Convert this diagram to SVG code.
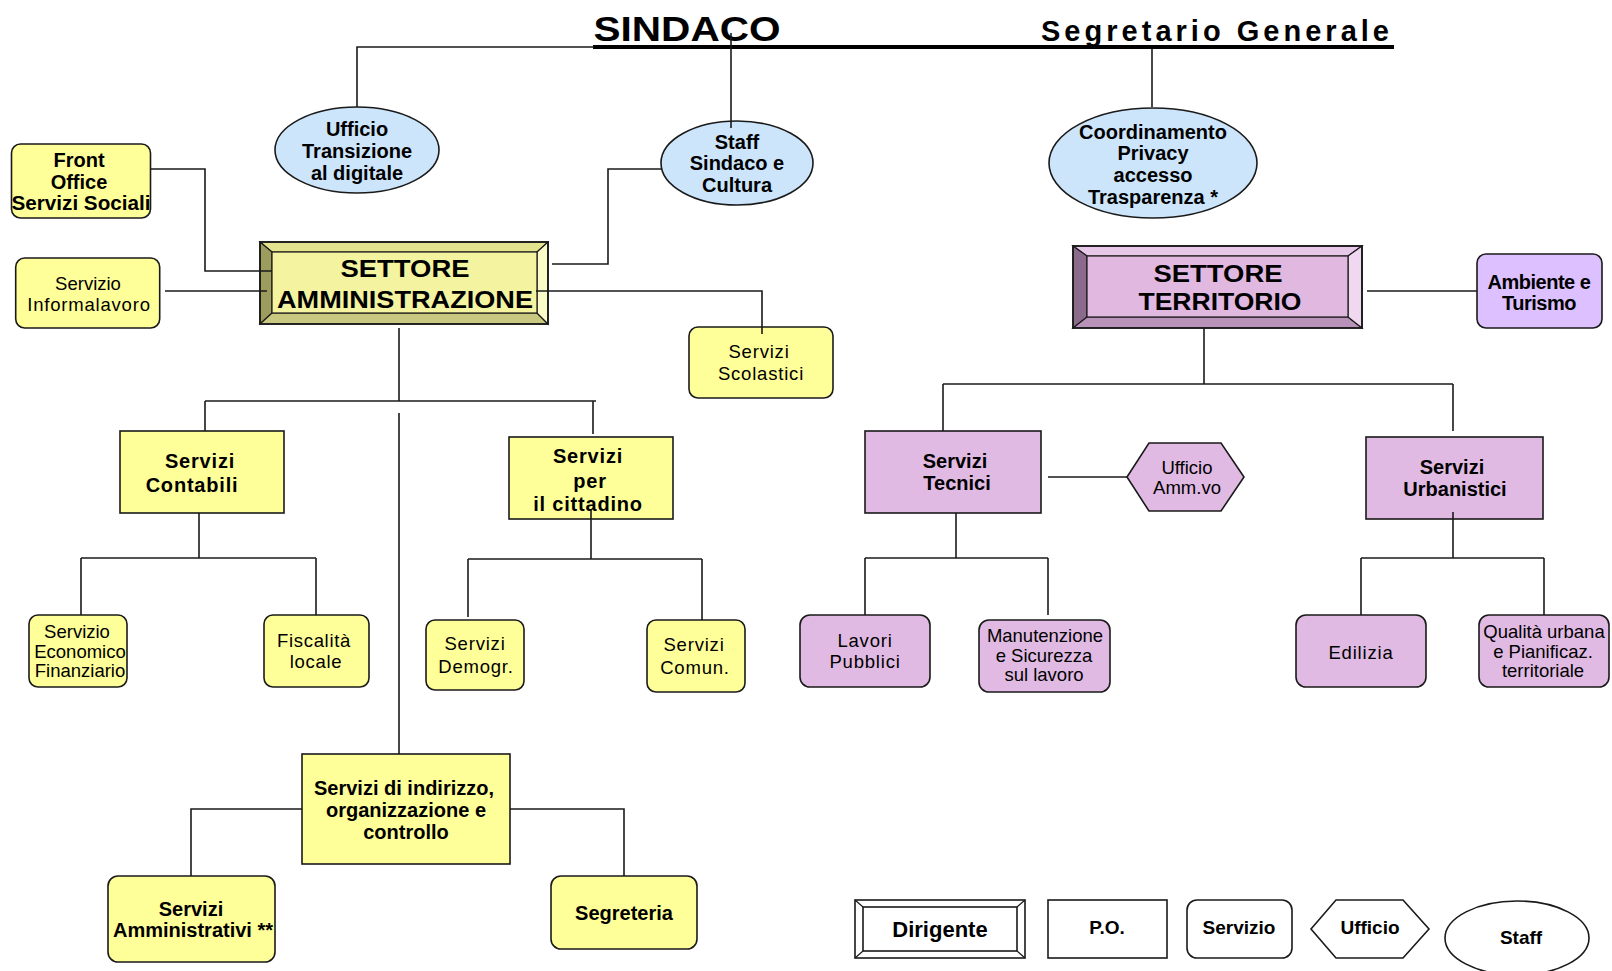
<svg xmlns="http://www.w3.org/2000/svg" width="1612" height="971" viewBox="0 0 1612 971">
<style>
text{font-family:"Liberation Sans",Arial,sans-serif;fill:#000;text-anchor:middle}
.b{font-weight:bold;font-size:20px}
.r{font-size:18.5px}
.ttl{font-weight:bold}
.y{fill:#ffff99;stroke:#1a1a1a;stroke-width:1.6}
.p{fill:#e1bae3;stroke:#1a1a1a;stroke-width:1.6}
.v{fill:#dcc0ff;stroke:#1a1a1a;stroke-width:1.6}
.c{fill:#cce5fb;stroke:#1a1a1a;stroke-width:1.6}
.w{fill:#fff;stroke:#1a1a1a;stroke-width:1.6}
.bv{stroke:#1a1a1a;stroke-width:1.2}
.con path{fill:none;stroke:#1a1a1a;stroke-width:1.6}
</style>

<g id="title">
<text class="ttl" x="687" y="41" font-size="35" textLength="187" lengthAdjust="spacingAndGlyphs">SINDACO</text>
<text class="ttl" x="1215" y="41" font-size="29" textLength="348" lengthAdjust="spacing">Segretario Generale</text>
<rect x="593" y="45" width="801" height="4" fill="#000"/>
</g>

<g id="ufficio-transizione">
<ellipse class="c" cx="357" cy="150" rx="82" ry="43"/>
<text class="b" x="357" y="136">Ufficio</text>
<text class="b" x="357" y="158">Transizione</text>
<text class="b" x="357" y="180">al digitale</text>
</g>

<g id="staff-sindaco">
<ellipse class="c" cx="737" cy="163" rx="76" ry="42"/>
<text class="b" x="737" y="149">Staff</text>
<text class="b" x="737" y="170">Sindaco e</text>
<text class="b" x="737" y="192">Cultura</text>
</g>

<g id="coordinamento">
<ellipse class="c" cx="1153" cy="163" rx="104" ry="55"/>
<text class="b" x="1153" y="139">Coordinamento</text>
<text class="b" x="1153" y="160">Privacy</text>
<text class="b" x="1153" y="182">accesso</text>
<text class="b" x="1153" y="204">Trasparenza *</text>
</g>

<g id="front-office">
<rect class="y" x="11.5" y="144" width="139" height="74" rx="9"/>
<text class="b" x="79" y="167">Front</text>
<text class="b" x="79" y="189">Office</text>
<text class="b" x="81" y="210" textLength="139" lengthAdjust="spacingAndGlyphs">Servizi Sociali</text>
</g>

<g id="informalavoro">
<rect class="y" x="15.7" y="258" width="144" height="70" rx="9"/>
<text class="r" x="88" y="290">Servizio</text>
<text class="r" x="89" y="311" letter-spacing="0.8">Informalavoro</text>
</g>

<g id="settore-amministrazione">
<polygon class="bv" fill="#e4e48e" points="260,242 548,242 537,252 272,252"/>
<polygon class="bv" fill="#9c9c5c" points="260,242 272,252 272,313 260,324"/>
<polygon class="bv" fill="#c8c880" points="260,324 272,313 537,313 548,324"/>
<polygon class="bv" fill="#fbfbc8" points="548,242 548,324 537,313 537,252"/>
<rect x="272" y="252" width="265" height="61" fill="#f3f3a0" stroke="#1a1a1a" stroke-width="1.2"/>
<rect x="260" y="242" width="288" height="82" fill="none" stroke="#1a1a1a" stroke-width="1.8"/>
<text class="ttl" x="405" y="277" font-size="23.5" textLength="129" lengthAdjust="spacingAndGlyphs">SETTORE</text>
<text class="ttl" x="405" y="308" font-size="23.5" textLength="256" lengthAdjust="spacingAndGlyphs">AMMINISTRAZIONE</text>
</g>

<g id="settore-territorio">
<polygon class="bv" fill="#e8c8e8" points="1073,246 1362,246 1348,256 1087,256"/>
<polygon class="bv" fill="#8c6a8c" points="1073,246 1087,256 1087,317 1073,328"/>
<polygon class="bv" fill="#b892b8" points="1073,328 1087,317 1348,317 1362,328"/>
<polygon class="bv" fill="#f0d8f0" points="1362,246 1362,328 1348,317 1348,256"/>
<rect x="1087" y="256" width="261" height="61" fill="#e0b8e0" stroke="#1a1a1a" stroke-width="1.2"/>
<rect x="1073" y="246" width="289" height="82" fill="none" stroke="#1a1a1a" stroke-width="1.8"/>
<text class="ttl" x="1218" y="282" font-size="23.5" textLength="129" lengthAdjust="spacingAndGlyphs">SETTORE</text>
<text class="ttl" x="1220" y="310" font-size="23.5" textLength="163" lengthAdjust="spacingAndGlyphs">TERRITORIO</text>
</g>

<g id="ambiente-turismo">
<rect class="v" x="1477" y="254" width="125" height="74" rx="9"/>
<text class="b" x="1539" y="289" letter-spacing="-0.5">Ambiente e</text>
<text class="b" x="1539" y="310" letter-spacing="-0.5">Turismo</text>
</g>

<g id="servizi-scolastici">
<rect class="y" x="689" y="327" width="144" height="71" rx="9"/>
<text class="r" x="759" y="358" letter-spacing="0.8">Servizi</text>
<text class="r" x="761" y="380" letter-spacing="0.8">Scolastici</text>
</g>

<g id="servizi-contabili">
<rect class="y" x="120" y="431" width="164" height="82"/>
<text class="b" x="200" y="468" letter-spacing="0.8">Servizi</text>
<text class="b" x="192" y="492" letter-spacing="0.8">Contabili</text>
</g>

<g id="servizi-cittadino">
<rect class="y" x="509" y="437" width="164" height="82"/>
<text class="b" x="588" y="463" letter-spacing="0.8">Servizi</text>
<text class="b" x="590" y="488" letter-spacing="0.8">per</text>
<text class="b" x="588" y="511" letter-spacing="0.8">il cittadino</text>
</g>

<g id="servizio-economico">
<rect class="y" x="29" y="615" width="98" height="72" rx="9"/>
<text class="r" x="77" y="638" font-size="17.5">Servizio</text>
<text class="r" x="80" y="658" font-size="17.5">Economico</text>
<text class="r" x="80" y="677" font-size="17.5">Finanziario</text>
</g>

<g id="fiscalita">
<rect class="y" x="264" y="615" width="105" height="72" rx="9"/>
<text class="r" x="314" y="647" letter-spacing="0.7">Fiscalità</text>
<text class="r" x="316" y="668" letter-spacing="0.7">locale</text>
</g>

<g id="servizi-demogr">
<rect class="y" x="426" y="620" width="98" height="70" rx="9"/>
<text class="r" x="475" y="650" letter-spacing="0.8">Servizi</text>
<text class="r" x="476" y="673" letter-spacing="0.8">Demogr.</text>
</g>

<g id="servizi-comun">
<rect class="y" x="647" y="620" width="98" height="72" rx="9"/>
<text class="r" x="694" y="651" letter-spacing="0.8">Servizi</text>
<text class="r" x="695" y="674" letter-spacing="0.8">Comun.</text>
</g>

<g id="servizi-indirizzo">
<rect class="y" x="302" y="754" width="208" height="110"/>
<text class="b" x="404" y="795">Servizi di indirizzo,</text>
<text class="b" x="406" y="817">organizzazione e</text>
<text class="b" x="406" y="839">controllo</text>
</g>

<g id="servizi-amministrativi">
<rect class="y" x="108" y="876" width="167" height="86" rx="10"/>
<text class="b" x="191" y="916">Servizi</text>
<text class="b" x="193" y="937">Amministrativi **</text>
</g>

<g id="segreteria">
<rect class="y" x="551" y="876" width="146" height="73" rx="10"/>
<text class="b" x="624" y="920">Segreteria</text>
</g>

<g id="servizi-tecnici">
<rect class="p" x="865" y="431" width="176" height="82"/>
<text class="b" x="955" y="468">Servizi</text>
<text class="b" x="957" y="490">Tecnici</text>
</g>

<g id="ufficio-ammvo">
<polygon class="p" points="1127,477 1149,443 1221,443 1244,477 1221,511 1149,511"/>
<text class="r" x="1187" y="474" font-size="18">Ufficio</text>
<text class="r" x="1187" y="494" font-size="18">Amm.vo</text>
</g>

<g id="servizi-urbanistici">
<rect class="p" x="1366" y="437" width="177" height="82"/>
<text class="b" x="1452" y="474">Servizi</text>
<text class="b" x="1455" y="496">Urbanistici</text>
</g>

<g id="lavori-pubblici">
<rect class="p" x="800" y="615" width="130" height="72" rx="10"/>
<text class="r" x="865" y="647" letter-spacing="0.8">Lavori</text>
<text class="r" x="865" y="668" letter-spacing="0.8">Pubblici</text>
</g>

<g id="manutenzione">
<rect class="p" x="979" y="620" width="131" height="72" rx="10"/>
<text class="r" x="1045" y="642" font-size="18">Manutenzione</text>
<text class="r" x="1044" y="662" font-size="18">e Sicurezza</text>
<text class="r" x="1044" y="681" font-size="18">sul lavoro</text>
</g>

<g id="edilizia">
<rect class="p" x="1296" y="615" width="130" height="72" rx="10"/>
<text class="r" x="1361" y="659" letter-spacing="0.8">Edilizia</text>
</g>

<g id="qualita-urbana">
<rect class="p" x="1479" y="615" width="130" height="72" rx="10"/>
<text class="r" x="1544" y="638" font-size="18">Qualità urbana</text>
<text class="r" x="1543" y="658" font-size="18">e Pianificaz.</text>
<text class="r" x="1543" y="677" font-size="18">territoriale</text>
</g>

<g id="legend-dirigente">
<rect class="w" x="855" y="900" width="170" height="58"/>
<rect class="w" x="863" y="907" width="154" height="44"/>
<path d="M855,900 L863,907 M1025,900 L1017,907 M855,958 L863,951 M1025,958 L1017,951" stroke="#1a1a1a" stroke-width="1.2"/>
<text class="ttl" x="940" y="937" font-size="22">Dirigente</text>
</g>

<g id="legend-po">
<rect class="w" x="1048" y="900" width="119" height="58"/>
<text class="ttl" x="1107" y="934" font-size="19">P.O.</text>
</g>

<g id="legend-servizio">
<rect class="w" x="1187" y="900" width="105" height="58" rx="10"/>
<text class="ttl" x="1239" y="934" font-size="19">Servizio</text>
</g>

<g id="legend-ufficio">
<polygon class="w" points="1311,929 1336,900 1403,900 1429,929 1403,958 1336,958"/>
<text class="ttl" x="1370" y="934" font-size="19">Ufficio</text>
</g>

<g id="legend-staff">
<ellipse class="w" cx="1517" cy="938" rx="72" ry="37"/>
<text class="ttl" x="1521" y="944" font-size="19">Staff</text>
</g>

<g id="connectors" class="con">
<path d="M594,47 H357 V107"/>
<path d="M731,33 V128"/>
<path d="M1152,49 V107"/>
<path d="M150,169 H205 V271 H272"/>
<path d="M165,291 H267"/>
<path d="M552,264 H608 V169 H662"/>
<path d="M536,291 H762 V334"/>
<path d="M399,328 V401"/>
<path d="M205,401 H596"/>
<path d="M205,401 V431"/>
<path d="M593,401 V434"/>
<path d="M399,413 V754"/>
<path d="M199,513 V558"/>
<path d="M81,558 H316"/>
<path d="M81,558 V615"/>
<path d="M316,558 V615"/>
<path d="M591,510 V559"/>
<path d="M468,559 H702"/>
<path d="M468,559 V617"/>
<path d="M702,559 V620"/>
<path d="M302,809 H191 V876"/>
<path d="M510,809 H624 V876"/>
<path d="M1367,291 H1477"/>
<path d="M1204,328 V384"/>
<path d="M943,384 H1453"/>
<path d="M943,384 V431"/>
<path d="M1453,384 V431"/>
<path d="M1048,477 H1127"/>
<path d="M956,513 V558"/>
<path d="M865,558 H1048"/>
<path d="M865,558 V615"/>
<path d="M1048,558 V615"/>
<path d="M1453,512 V558"/>
<path d="M1361,558 H1544"/>
<path d="M1361,558 V615"/>
<path d="M1544,558 V615"/>
</g>
</svg>
